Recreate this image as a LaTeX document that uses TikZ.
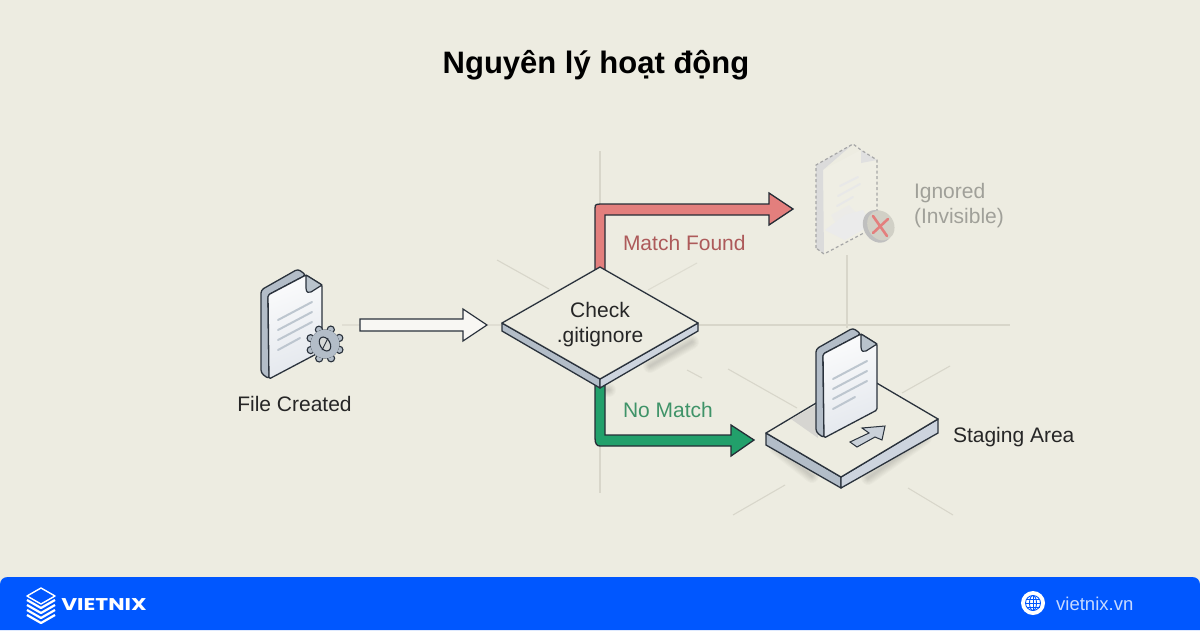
\documentclass[tikz,border=0pt]{standalone}
\usepackage{fontspec}
\setmainfont{Liberation Sans}
\newfontfamily\logofont{Poppins}
\usetikzlibrary{calc,shapes.geometric}
\definecolor{bgc}{HTML}{EDECE1}
\definecolor{guide}{HTML}{D8D6CA}
\definecolor{ink}{HTML}{2A323C}
\definecolor{sidec}{HTML}{B3BDC8}
\definecolor{sidel}{HTML}{CDD4DE}
\definecolor{foldc}{HTML}{B9C3CC}
\definecolor{linec}{HTML}{BDC6CF}
\definecolor{redf}{HTML}{E37F7D}
\definecolor{redl}{HTML}{AD5A5A}
\definecolor{greenf}{HTML}{22A06B}
\definecolor{greenl}{HTML}{3F9368}
\definecolor{grayt}{HTML}{A0A099}
\definecolor{footc}{HTML}{0057FF}
\tikzset{
  guideline/.style={draw=guide,line width=1.1pt},
  label/.style={inner sep=0pt,outer sep=0pt,text=black!85,font=\fontsize{21}{25}\selectfont},
  blockarrow/.style={draw=ink!90!black,line width=1.3pt,line join=miter},
  docline/.style={draw=linec,line width=2pt,line cap=round},
  softshadow/.style={draw=black,draw opacity=.018,line width=#1,line join=round,line cap=round},
  docsheet/.pic={
    \draw[draw=ink,fill=sidec,line width=1.3pt,rounded corners=3pt,line join=round]
      (8,110)--(0,104)--(0,21)--(37,0)--(45,6)--(7,26)--cycle;
    \draw[draw=ink,top color=white!90!sidel,bottom color=sidel!55!white,shading angle=20,line width=1.3pt,rounded corners=1.5pt,line join=round]
      (7,26)--(45,6)--(61,16)--(61,82)--(8,110)--cycle;
    \draw[draw=ink,fill=foldc,line width=1.2pt,line join=round]
      (45,6)--(45,19) .. controls (45,24) and (48,24) .. (50,23)--(61,16)--cycle;
    \draw[docline] (17,51)--(51,33);
    \draw[docline] (17,61)--(51,43);
    \draw[docline] (17,71)--(51,53);
    \draw[docline] (17,81)--(39,69);
  }
}
\begin{document}
\begin{tikzpicture}[x=1pt,y=-1pt]
\useasboundingbox (0,0) rectangle (1200,630);
\fill[bgc] (0,0) rectangle (1200,630);
% guide lines
\draw[guideline] (600,151)--(600,205);
\draw[guideline] (600,445)--(600,493);
\draw[guideline] (698,325)--(1010,325);
\draw[guideline] (847,255)--(847,328);
\draw[guideline] (497,260)--(549,289);
\draw[guideline,opacity=.7] (697,263)--(648,290);
\draw[guideline] (687,370)--(702,378);
\draw[guideline] (728,369)--(797,408);
\draw[guideline] (950,366)--(902,393);
\draw[guideline] (785,485)--(733,515);
\draw[guideline] (908,488)--(953,515);
\draw[guideline,opacity=.6] (342,325)--(360,325);
\draw[guideline,opacity=.6] (488,325)--(501,325);
% title
\node[inner sep=0pt,anchor=base,text=black,font=\fontsize{31}{36}\selectfont\bfseries] (title) at (596,73) {Nguyên lý hoạt động};
% soft shadows
\foreach \w in {2,4,...,14}{
  \draw[softshadow=\w pt] (692,342)--(650,366);
  \draw[softshadow=\w pt] (604,390)--(609,390);
  \draw[softshadow=\w pt] (776,448)--(812,476);
  \draw[softshadow=\w pt] (925,438)--(868,478);
}
% diamond
\node[diamond,aspect=1.75,draw=none,inner sep=0pt,outer sep=0pt,minimum width=196pt,minimum height=112pt] (check) at (600,323) {};
% red connector
\coordinate (redtip) at (793,209);
\draw[blockarrow,fill=redf]
  ($(check.north)+(-5,8)$) -- ($(check.north)+(-5,-59)$)
  .. controls ($(check.north)+(-5,-63)$) and ($(check.north)+(-3,-63)$) .. ($(check.north)+(0,-63)$)
  -- ($(redtip)+(-24,-5)$) -- ($(redtip)+(-24,-16)$) -- (redtip)
  -- ($(redtip)+(-24,16)$) -- ($(redtip)+(-24,6)$)
  -- ($(check.north)+(5,-52)$) -- ($(check.north)+(5,8)$) -- cycle;
% staging area platform
\coordinate (plL) at (766,433);
\coordinate (plF) at (841,477);
\coordinate (plR) at (938,419);
\coordinate (plB) at (863,375);
\draw[draw=ink,fill=sidec,line width=1.3pt,line join=round]
  (plL)--(plF)--($(plF)+(0,11)$)--($(plL)+(0,12)$)--cycle;
\draw[draw=ink,fill=sidel,line width=1.3pt,line join=round]
  (plF)--(plR)--($(plR)+(0,14)$)--($(plF)+(0,11)$)--cycle;
\draw[draw=ink,fill=bgc,line width=1.3pt,line join=round]
  (plL)--(plF)--(plR)--(plB)--cycle;
\fill[black!22,opacity=.6] (818,404)--(791,419)--(818,438)--cycle;
\draw[draw=ink,fill=sidec!70!white,line width=1pt,line join=miter]
  (850,442)--(857,447)--(875,437)--(882,440)--(885,426)--(862,428)--(869,433)--cycle;
\pic at (816,328) {docsheet};
\node[minimum width=172pt,minimum height=113pt,inner sep=0pt,outer sep=0pt] (staging) at (852,432) {};
\node[label,anchor=base west] (stagingt) at (953,442.5) {Staging Area};
% green connector
\coordinate (greentip) at (754,440);
\draw[blockarrow,fill=greenf]
  ($(check.south)+(-5,6)$) -- ($(check.south)+(-5,59)$)
  .. controls ($(check.south)+(-5,65)$) and ($(check.south)+(-3,67)$) .. ($(check.south)+(0,67)$)
  -- ($(greentip)+(-23,6)$) -- ($(greentip)+(-23,16)$) -- (greentip)
  -- ($(greentip)+(-23,-15)$) -- ($(greentip)+(-23,-5)$)
  -- ($(check.south)+(5,56)$) -- ($(check.south)+(5,6)$) -- cycle;
% diamond body
\draw[draw=ink,fill=sidec,line width=1.3pt,line join=round]
  (check.west)--(check.south)--($(check.south)+(0,9)$)--($(check.west)+(0,8)$)--cycle;
\draw[draw=ink,fill=sidel,line width=1.3pt,line join=round]
  (check.south)--(check.east)--($(check.east)+(0,8)$)--($(check.south)+(0,9)$)--cycle;
\draw[draw=ink,fill=bgc,line width=1.3pt,line join=round]
  (check.north)--(check.east)--(check.south)--(check.west)--cycle;
\node[label,anchor=base] (checkt) at (600,317) {Check};
\node[label,anchor=base] (gitt) at (600,342) {.gitignore};
% labels on connectors
\node[label,anchor=base west,text=redl] (matcht) at (623,250) {Match Found};
\node[label,anchor=base west,text=greenl] (nomatcht) at (623,417) {No Match};
% file created
\node[inner sep=0pt,outer sep=0pt,minimum width=61pt,minimum height=110pt] (filedoc) at (291.5,324) {};
\pic at (261,269) {docsheet};
\foreach \t in {0,45,...,315}{
  \draw[draw=ink,fill=sidec,line width=1.1pt] (325,344) ++(\t+22:15.5) circle (3.6pt);
}
\draw[draw=ink,fill=sidec,line width=1.1pt] (325,344) circle (14pt);
\fill[sidec] (325,344) circle (14.4pt);
\draw[draw=ink,fill=bgc!60!sidec,line width=1.1pt,rotate around={-60:(325,344)}] (325,344) ellipse (7.5pt and 5pt);
\draw[draw=ink,line width=.9pt] (322,350)--(328,338);
\node[label,anchor=base] (filet) at (294.5,411) {File Created};
% white connector
\coordinate (wtail) at ($(filedoc.east)+(38,1)$);
\coordinate (wtip) at ($(check.west)+(-15,2)$);
\draw[draw=ink,fill=bgc!40!white,line width=1.2pt,line join=miter]
  ($(wtail)+(0,-6)$) -- ($(wtip)+(-24,-6)$) -- ($(wtip)+(-24,-16)$) -- (wtip)
  -- ($(wtip)+(-24,16)$) -- ($(wtip)+(-24,6)$) -- ($(wtail)+(0,6)$) -- cycle;
% ignored file
\node[inner sep=0pt,outer sep=0pt,minimum width=62pt,minimum height=110pt] (ignored) at (847,199) {};
\begin{scope}[shift={(555,-125)}]
  \fill[black!14] (261,290)--(298,269)--(268,295)--(269,379)--(261,373)--cycle;
  \fill[white,opacity=.12] (268,295)--(306,275)--(322,285)--(322,351)--(269,379)--cycle;
  \fill[black!12] (306,275)--(306,288)--(322,285)--cycle;
  \draw[draw=black!35,line width=1.2pt,dashed,dash pattern=on 3pt off 2.5pt,line join=round]
    (261,373)--(261,290)--(298,269)--(306,275)--(322,285)--(322,351)--(269,379)--cycle;
  \draw[line width=2pt,draw=black!9,line cap=round] (285,311)--(303,302);
  \draw[line width=2pt,draw=black!9,line cap=round] (283,321)--(305,309);
  \draw[line width=2pt,draw=black!9,line cap=round] (282,331)--(298,322);
  \fill[black!8] (270,355)--(290,340)--(308,335)--(316,350)--(290,365)--cycle;
  \fill[black!8,opacity=.7] (276,340)--(294,330)--(300,337)--(280,347)--cycle;
\end{scope}
\fill[black!25,rotate around={30:(878,225)}] (877,226) ellipse (14pt and 17pt);
\fill[bgc!88!black,rotate around={30:(880,226)}] (881,226) ellipse (13pt and 15.5pt);
\draw[draw=redf,line width=2.6pt,line cap=round] (873,216)--(887,236);
\draw[draw=redf,line width=2.6pt,line cap=round] (888,219)--(873,233);
\node[label,anchor=base west,text=grayt] (ignoredt) at (914,198) {Ignored};
\node[label,anchor=base west,text=grayt] (invist) at (914,223) {(Invisible)};
% footer
\path[fill=footc] (0,630)--(0,585) .. controls (0,580) and (3,577) .. (8,577) -- (1192,577) .. controls (1197,577) and (1200,580) .. (1200,585) -- (1200,630) -- cycle;
\draw[white,line width=1.4pt,line join=round] (41,588)--(55,596)--(41,604)--(27,596)--cycle;
\foreach \d in {0,5,10,15}{
  \draw[white,line width=2.2pt,line join=round] (27,600+\d)--(41,608+\d)--(55,600+\d);
}
\node[inner sep=0pt,text=white] (brand) at (104,605) {\scalebox{1.28}[1]{\logofont\bfseries\fontsize{17}{20}\selectfont VIETNIX}};
\fill[white] (1033,603) circle (12pt);
\draw[footc,line width=.9pt] (1033,603) circle (7.5pt);
\draw[footc,line width=.9pt] (1033,603) ellipse (3.5pt and 7.5pt);
\draw[footc,line width=.9pt] (1025.5,603)--(1040.5,603);
\draw[footc,line width=.9pt] (1026.5,599)--(1039.5,599);
\draw[footc,line width=.9pt] (1026.5,607)--(1039.5,607);
\draw[footc,line width=.9pt] (1033,595.5)--(1033,610.5);
\node[inner sep=0pt,anchor=base west,text=white!78!footc,font=\fontsize{18.5}{22}\selectfont] (site) at (1056,610) {vietnix.vn};
\end{tikzpicture}
\end{document}
